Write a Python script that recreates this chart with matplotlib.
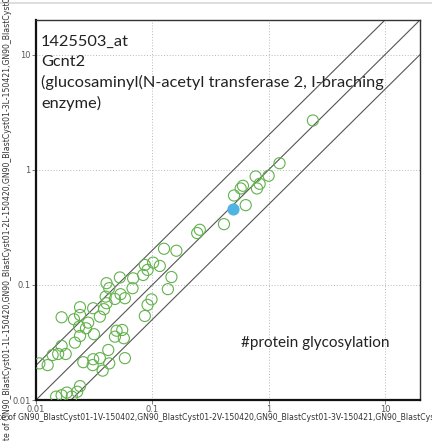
import matplotlib
matplotlib.use("Agg")
import matplotlib.pyplot as plt
import numpy as np

# Probe 1425503_at (Gcnt2): expression in the two sample groups
x_vals = [2.40, 1.24, 0.773, 1.00, 0.837, 0.794, 0.601, 0.575, 0.504, 0.635,
          0.413, 0.256, 0.243, 0.126, 0.161, 0.0862, 0.1016, 0.116, 0.091, 0.0834,
          0.146, 0.136, 0.0684, 0.0526, 0.0676, 0.0404, 0.0426, 0.0533, 0.0581, 0.0477,
          0.0397, 0.0404, 0.0384, 0.0354, 0.0310, 0.0239, 0.0239, 0.0212, 0.0235, 0.0281,
          0.0269, 0.0239, 0.0216, 0.0315, 0.0166, 0.0166, 0.0155, 0.0139, 0.0180, 0.0107,
          0.0126, 0.0984, 0.0910, 0.0862, 0.0493, 0.0551, 0.0477, 0.0569, 0.0418, 0.0581,
          0.0354, 0.0310, 0.0255, 0.0307, 0.0426, 0.0374, 0.0239, 0.0226, 0.0184, 0.0166,
          0.0149, 0.0203]
y_vals = [2.68, 1.14, 0.874, 0.887, 0.755, 0.688, 0.726, 0.688, 0.598, 0.493,
          0.337, 0.301, 0.282, 0.206, 0.198, 0.149, 0.156, 0.146, 0.135, 0.122,
          0.117, 0.0918, 0.114, 0.116, 0.0936, 0.1035, 0.0936, 0.0830, 0.0766, 0.0755,
          0.0791, 0.0693, 0.0615, 0.0530, 0.0627, 0.0640, 0.0548, 0.0503, 0.0434, 0.0470,
          0.0420, 0.0360, 0.0315, 0.0373, 0.0523, 0.0295, 0.0251, 0.0246, 0.0251, 0.0208,
          0.0201, 0.0748, 0.0670, 0.0537, 0.0400, 0.0406, 0.0355, 0.0344, 0.0272, 0.0231,
          0.0231, 0.0226, 0.0213, 0.0201, 0.0208, 0.0180, 0.0132, 0.0118, 0.0116, 0.0110,
          0.0107, 0.0107]

# highlighted sample
hl_x = [0.494]
hl_y = [0.455]

fold_factors = [2.0, 1.0, 0.5]
tick_vals = [0.01, 0.1, 1, 10]
tick_labels = ["0.01", "0.1", "1", "10"]

title_lines = "1425503_at\nGcnt2\n(glucosaminyl(N-acetyl transferase 2, I-braching\nenzyme)"
category = "#protein glycosylation"
label_prefix = "Estimate of "
x_samples = ("GN90_BlastCyst01-1V-150402,GN90_BlastCyst01-2V-150420,"
             "GN90_BlastCyst01-3V-150421,GN90_BlastCyst01-4V-150421")
y_samples = ("GN90_BlastCyst01-1L-150420,GN90_BlastCyst01-2L-150420,"
             "GN90_BlastCyst01-3L-150421,GN90_BlastCyst01-4L-150421")

narrow = ["Liberation Sans Narrow", "DejaVu Sans"]
label_size = 5.6

W, H = 432, 441
fig = plt.figure(figsize=(W / 100, H / 100), dpi=100)
ax = fig.add_axes([36 / W, (H - 400) / H, (420 - 36) / W, (400 - 20) / H])

ax.set_xscale("log")
ax.set_yscale("log")
lim = (0.01, 20)
ax.set_xlim(lim)
ax.set_ylim(lim)

# fold-change guide lines
xs = np.array([1e-3, 1e3])
for f in fold_factors:
    ax.plot(xs, xs * f, color="#555555", lw=0.8, zorder=2)

ax.scatter(x_vals, y_vals, s=64, facecolors="none", edgecolors="#62b24c",
           linewidths=0.8, zorder=3)
ax.scatter(hl_x, hl_y, s=60, color="#4fb4e2", edgecolors="#4fb4e2", zorder=4)

ax.set_xticks(tick_vals)
ax.set_xticklabels(tick_labels, family=narrow)
ax.set_yticks(tick_vals)
ax.set_yticklabels(tick_labels, family=narrow)
ax.minorticks_off()
ax.tick_params(axis="both", length=3, width=0.6, colors="#666666", labelsize=6,
               labelcolor="#555555", pad=0.8)
ax.grid(True, which="major", color="#b0b0b0", linestyle=(0, (1.2, 2.2)), lw=0.6)

for side in ("left", "bottom"):
    ax.spines[side].set_linewidth(1.6)
    ax.spines[side].set_color("#111111")
for side in ("top", "right"):
    ax.spines[side].set_linewidth(1.0)
    ax.spines[side].set_color("#333333")

ax.text(0.013, 0.960, title_lines, transform=ax.transAxes, ha="left", va="top",
        fontsize=11.8, family="Lato", color="#222222", linespacing=1.5)
ax.text(0.535, 0.150, category, transform=ax.transAxes, ha="left", va="center",
        fontsize=11, family="Lato", color="#222222")

# width of the label prefix, so that the sample names start at a fixed pixel
fig.canvas.draw()
renderer = fig.canvas.get_renderer()
probe_a = fig.text(0, 0, label_prefix + "GN90", fontsize=label_size, family=narrow)
probe_b = fig.text(0, 0, "GN90", fontsize=label_size, family=narrow)
prefix_px = (probe_a.get_window_extent(renderer).width
             - probe_b.get_window_extent(renderer).width)
probe_a.remove()
probe_b.remove()

fig.text((18 - prefix_px) / W, 1 - 418 / H, label_prefix + x_samples,
         ha="left", va="center", fontsize=label_size, family=narrow, color="#333333")
fig.text(8 / W, (21 - prefix_px) / H, label_prefix + y_samples,
         ha="center", va="bottom", rotation=90, rotation_mode="default",
         fontsize=label_size, family=narrow, color="#333333")

# faint rule along the top edge
fig.add_artist(plt.Line2D([0, 1], [1 - 3 / H, 1 - 3 / H], transform=fig.transFigure,
                          color="#d8d8d8", lw=1.2))

fig.savefig("out.png", dpi=100)
